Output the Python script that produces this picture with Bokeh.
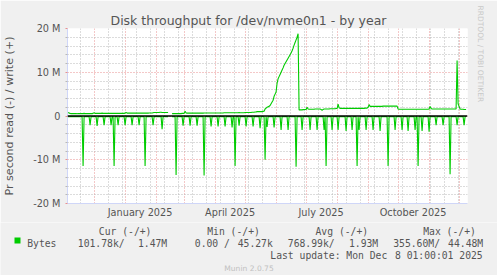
import pandas as pd
from bokeh.plotting import figure
from bokeh.layouts import column, row
from bokeh.models import (Range1d, FixedTicker, Label, Span, Title,
                          DatetimeTickFormatter, ColumnDataSource)
from bokeh.embed import file_html
from bokeh.resources import INLINE

nan = float("nan")

# ---------------- data (MB/s, one value per day, starting 2024-11-05) ----------------
first_day = "2024-11-05"

write_mb = [
    0.80, 0.70, 0.60, 0.55, 0.55, 0.55, 0.55, 0.55, 0.55, 0.50, 0.55, 0.55, 0.55, 0.55,
    0.55, 0.55, 0.60, 0.55, 0.55, 0.55, 0.55, 0.55, 0.55, 0.55, 0.55, 0.60, 0.75, 0.60,
    0.60, 0.60, 0.60, 0.60, 0.60, 0.60, 0.65, 0.60, 0.60, 0.60, 0.60, 0.60, 0.60, 0.60,
    0.60, 0.60, 0.60, 0.60, 0.60, 0.60, 0.60, 0.60, 0.60, 0.60, 0.60, 0.60, 0.60, 0.60,
    0.60, 0.65, 0.80, 0.65, 0.65, 0.65, 0.65, 0.65, 0.65, 0.65, 0.65, 0.65, 0.65, 0.65,
    0.65, 0.65, 0.65, 0.65, 0.65, 0.65, 0.65, 0.65, 0.65, 0.65, 0.65, 0.70, 0.70, 0.70,
    0.70, 0.75, 0.80, 0.80, 0.80, 0.80, 0.80, 0.80, 0.85, 0.85, 0.80, 0.80, 0.80, 0.80,
    0.80, 0.80, 0.80, nan, nan, nan, 0.55, 0.55, 0.55, 0.55, 0.55, 0.55, 0.55, 0.55,
    0.55, 0.55, 0.60, 0.60, 0.60, 1.10, 0.70, 0.65, 0.65, 0.65, 0.65, 0.65, 0.65, 0.65,
    0.65, 0.65, 0.65, 0.70, 0.65, 0.65, 0.65, 0.65, 0.65, 0.65, 0.70, 0.70, 0.70, 0.70,
    0.70, 0.70, 0.70, 0.70, 0.70, 0.70, 0.70, 0.70, 0.70, 0.70, 0.70, 0.70, 0.70, 0.70,
    0.70, 0.70, 0.75, 0.75, 0.75, 0.75, 0.75, 0.75, 0.75, 0.75, 0.75, 0.75, 0.75, 0.75,
    0.75, 0.75, 0.75, 0.80, 0.75, 0.75, 0.75, 0.75, 0.75, 0.80, 0.80, 0.80, 0.80, 0.80,
    0.80, 0.80, 0.85, 0.85, 0.85, 0.90, 0.90, 1.00, 1.00, 1.00, 1.00, 1.00, 1.00, 1.05,
    1.10, 1.60, 1.80, 2.00, 2.10, 2.20, 2.40, 2.80, 3.20, 3.60, 4.50, 5.00, 5.50, 7.50,
    8.50, 9.00, 9.50, 10.0, 10.5, 11.0, 11.6, 12.0, 12.4, 12.8, 13.2, 13.6, 14.0, 14.4,
    14.9, 15.5, 16.2, 16.8, 17.4, 18.0, 18.8, 1.40, 1.40, 1.40, 1.40, 1.45, 1.45, 1.50,
    1.50, 2.00, 1.60, 1.55, 1.55, 1.55, 1.55, 1.55, 1.55, 1.60, 1.60, 1.60, 1.60, 1.60,
    1.60, 1.50, 1.30, 1.50, 1.60, 1.60, 1.60, 1.60, 1.60, 1.60, 1.65, 1.65, 1.65, 1.65,
    1.65, 1.65, 1.70, 1.70, 2.70, 1.90, 1.75, 1.75, 1.75, 1.75, 1.75, 1.75, 1.75, 1.75,
    1.75, 1.75, 1.75, 1.75, 1.75, 1.75, 1.75, 1.75, 1.75, 1.75, 1.75, 1.75, 1.75, 1.75,
    1.75, 1.75, 1.75, 1.80, 1.80, 1.80, 2.00, 2.60, 2.20, 2.20, 2.20, 2.20, 2.20, 2.20,
    2.20, 2.20, 2.20, 2.20, 2.20, 2.20, 2.20, 2.25, 2.25, 2.25, 2.25, 2.25, 2.25, 2.25,
    2.25, 2.25, 2.25, 2.25, 2.25, 2.25, 2.25, 2.25, 1.60, 1.55, 1.55, 1.55, 1.55, 1.55,
    1.55, 1.55, 1.55, 1.55, 1.55, 1.55, 1.55, 1.55, 1.55, 1.55, 1.55, 1.55, 1.55, 1.55,
    1.55, 1.55, 1.55, 1.55, 1.55, 1.55, 1.55, 1.55, 1.55, 1.55, 1.55, 1.60, 2.20, 1.70,
    1.60, 1.60, 1.60, 1.60, 1.60, 1.60, 1.60, 1.60, 1.60, 1.60, 1.60, 1.60, 1.60, 1.60,
    1.60, 1.60, 1.60, 1.60, 1.60, 1.60, 1.60, 1.60, 1.60, 1.60, 1.60, 12.7, 2.80, 2.20,
    1.60, 1.55, 1.55, 1.55, 1.50, 1.50, 1.47,
]

read_mb = [
    .15, .15, .15, .15, .15, .15, .15, .15, .15, .15, .15, .15, .15, .15,
    .15, 11.4, .15, .15, .15, .15, .15, .15, 2.1, .15, .15, .15, .15, .15,
    .15, 2.3, .15, .15, .15, .15, .15, .15, 2.1, .15, .15, .15, .15, .15,
    .15, 2.1, .15, .15, 11.4, .15, .15, .15, 2.1, .15, .15, .15, .15, .15,
    .15, 2.1, .15, .15, .15, .15, .15, .15, 2.1, .15, .15, .15, .15, .15,
    .15, 2.1, .15, .15, .15, .15, .15, 11.4, .15, .15, .15, .15, .15, .15,
    .15, 2.1, .15, .15, .15, .15, .15, .15, .15, .15, 3.0, .15, .15, .15,
    .15, .15, .15, nan, nan, nan, .15, .15, .15, .15, 13.5, .15, .15, .15,
    .15, .15, .15, 2.2, .15, .15, .15, .15, .15, .15, 2.2, .15, .15, .15,
    .15, .15, .15, 2.2, .15, .15, .15, .15, .15, .15, 13.6, .15, .15, .15,
    .15, .15, .15, 2.4, .15, .15, .15, .15, .15, .15, 2.4, .15, .15, .15,
    .15, .15, .15, 2.4, .15, .15, .15, .15, .15, .15, 2.6, .15, .15, 11.4,
    .15, .15, .15, 2.2, .15, .15, .15, .15, .15, .15, 2.4, .15, .15, .15,
    .15, .15, .15, 2.4, .15, .15, .15, .15, .15, .15, 2.8, .15, .15, .15,
    .15, 10.0, .15, 2.5, .15, .15, .15, .15, .15, .15, 2.6, .15, .15, .15,
    .15, .15, .15, 3.2, .15, .15, .15, .15, .15, .15, 3.2, .15, .15, .15,
    .15, .15, .15, .15, 11.6, .15, .15, .15, .15, .15, 3.2, .15, .15, .15,
    .15, .15, .15, .15, 3.2, .15, .15, .15, .15, .15, .15, 3.2, .15, .15,
    .15, .15, .15, .15, 3.2, .15, 11.4, .15, .15, .15, .15, .15, 3.2, .15,
    .15, .15, .15, .15, 3.2, .15, .15, .15, .15, .15, .15, .15, 3.4, .15,
    .15, .15, .15, .15, 3.2, .15, .15, .15, .15, 11.4, .15, 3.2, .15, .15,
    .15, .15, .15, .15, 3.2, .15, .15, .15, .15, .15, .15, 3.2, .15, .15,
    .15, .15, .15, .15, 3.4, .15, .15, .15, .15, .15, .15, .15, 11.4, .15,
    .15, .15, .15, .15, .15, 3.2, .15, .15, .15, .15, .15, .15, 3.2, .15,
    .15, .15, .15, .15, 3.4, .15, .15, .15, .15, .15, .15, 3.2, .15, .15,
    11.4, .15, .15, .15, 3.4, .15, .15, .15, .15, .15, .15, 3.6, .15, .15,
    .15, .15, .15, .15, 2.1, .15, .15, .15, .15, .15, .15, 2.1, .15, .15,
    .15, .15, .15, .15, 13.3, .15, .15, .15, .15, .15, .15, 2.1, .15, .15,
    .15, .15, .15, .15, 2.1, .15, .10,
]

# axis / tick definitions
x_start = "2024-11-04 10:00"
x_end = "2025-12-09 10:00"
y_ticks = [-20, -10, 0, 10, 20]
y_tick_labels = ["-20 M", "-10 M", "0", "10 M", "20 M"]
y_minor = [-18, -16, -14, -12, -8, -6, -4, -2, 2, 4, 6, 8, 12, 14, 16, 18]
month_starts = ["2024-12-01", "2025-01-01", "2025-02-01", "2025-03-01", "2025-04-01",
                "2025-05-01", "2025-06-01", "2025-07-01", "2025-08-01", "2025-09-01",
                "2025-10-01", "2025-11-01", "2025-12-01"]
biweekly = ["2024-11-17", "2024-12-15", "2024-12-29", "2025-01-12", "2025-01-26",
            "2025-02-09", "2025-02-23", "2025-03-09", "2025-03-23", "2025-04-06",
            "2025-04-20", "2025-05-04", "2025-05-18", "2025-06-15", "2025-06-29",
            "2025-07-13", "2025-07-27", "2025-08-10", "2025-08-24", "2025-09-07",
            "2025-09-21", "2025-10-05", "2025-10-19", "2025-11-02", "2025-11-16",
            "2025-11-30"]
label_ticks = ["2025-01-16", "2025-04-16", "2025-07-16", "2025-10-16"]

title = "Disk throughput for /dev/nvme0n1 - by year"
y_label = "Pr second read (-) / write (+)"
series_name = "Bytes"
legend_headers = ["Cur (-/+)", "Min (-/+)", "Avg (-/+)", "Max (-/+)"]
legend_read = ["101.78k/", "0.00 /", "768.99k/", "355.60M/"]
legend_write = ["1.47M", "45.27k", "1.93M", "44.48M"]
last_update = ["Last update: Mon Dec", "8 01:00:01 2025"]
watermark = "Munin 2.0.75"
side_mark = "RRDTOOL / TOBI OETIKER"


def ms(s):
    return pd.Timestamp(s).timestamp() * 1000.0


# ---------------- styling constants ----------------
W, H = 497, 275
FL, FR, FT, FB = 67, 467, 28, 203
MAIN_W, MAIN_H = W, 222
BG = "#F0F0F0"
TXT = "#555555"
GREEN = "#00CC00"
AXIS_C = "#CFD6F8"
MAJ_C = "#E89090"
MIN_C = "#B8B8B8"
SANS = "DejaVu Sans"
MONO = "DejaVu Sans Mono"

dates = pd.date_range(first_day, periods=len(write_mb), freq="D")
src = ColumnDataSource(dict(x=dates, w=write_mb, r=[-v for v in read_mb]))

p = figure(width=MAIN_W, height=MAIN_H, x_axis_type="datetime", output_backend="svg",
           toolbar_location=None,
           x_range=Range1d(ms(x_start), ms(x_end)), y_range=Range1d(-20, 20),
           min_border_left=FL, min_border_right=W - FR,
           min_border_top=FT, min_border_bottom=MAIN_H - FB)
p.background_fill_color = "white"
p.border_fill_color = BG
p.outline_line_color = None

# title above the frame (starts at canvas x=110)
p.title = Title(text=title, align="left", offset=110 - FL, standoff=2,
                text_font=SANS, text_font_size="12.5px", text_font_style="normal",
                text_color=TXT)
# rrdtool watermark, vertical, at the right edge
p.add_layout(Title(text=side_mark, align="left", offset=5 - FT, standoff=16,
                   text_font=SANS, text_font_size="7.5px", text_font_style="normal",
                   text_color="#C8C8C8", vertical_align="bottom"), "right")

# grids
p.xgrid.ticker = FixedTicker(ticks=[ms(d) for d in month_starts],
                             minor_ticks=[ms(d) for d in biweekly])
p.ygrid.ticker = FixedTicker(ticks=y_ticks, minor_ticks=y_minor)
for g in (p.xgrid, p.ygrid):
    g.grid_line_color = MAJ_C
    g.grid_line_dash = "1 2"
    g.grid_line_width = 1
    g.minor_grid_line_color = MIN_C
    g.minor_grid_line_dash = "1 2"
    g.minor_grid_line_width = 1

# x axis
xa = p.xaxis[0]
xa.ticker = FixedTicker(ticks=[ms(d) for d in label_ticks])
fmt = "%B %Y"
xa.formatter = DatetimeTickFormatter(days=fmt, months=fmt, years=fmt, hours=fmt,
                                     hourmin=fmt, minutes=fmt, minsec=fmt, seconds=fmt,
                                     milliseconds=fmt, microseconds=fmt)
xa.major_tick_line_color = None
xa.minor_tick_line_color = None
xa.major_tick_out = 0
xa.major_tick_in = 0
xa.minor_tick_out = 0
xa.minor_tick_in = 0
xa.axis_line_color = AXIS_C
xa.major_label_standoff = 3
xa.major_label_text_font = SANS
xa.major_label_text_font_size = "9.72px"
xa.major_label_text_color = TXT

# y axis
ya = p.yaxis[0]
ya.ticker = FixedTicker(ticks=y_ticks, minor_ticks=y_minor)
ya.major_label_overrides = dict(zip(y_ticks, y_tick_labels))
ya.axis_line_color = AXIS_C
ya.major_tick_in = 0
ya.major_tick_out = 2
ya.major_tick_line_color = MAJ_C
ya.minor_tick_in = 0
ya.minor_tick_out = 2
ya.minor_tick_line_color = MIN_C
ya.major_label_standoff = 5
ya.major_label_text_font = SANS
ya.major_label_text_font_size = "9.72px"
ya.major_label_text_color = TXT
ya.axis_label = y_label
ya.axis_label_text_font = SANS
ya.axis_label_text_font_size = "11.1px"
ya.axis_label_text_font_style = "normal"
ya.axis_label_text_color = TXT
ya.axis_label_standoff = 14

# data lines
p.line("x", "w", source=src, line_color=GREEN, line_width=1.1)
p.line("x", "r", source=src, line_color=GREEN, line_width=1.1)
p.add_layout(Span(location=0, dimension="width", line_color="black", line_width=1.3))


def blank(w, h, x0, y0):
    """A text-only strip whose frame fills it; coordinates are canvas pixels."""
    f = figure(width=w, height=h, output_backend="svg", toolbar_location=None,
               x_range=Range1d(x0, x0 + w), y_range=Range1d(y0 + h, y0),
               min_border=0, x_axis_location=None, y_axis_location=None)
    f.grid.visible = False
    f.outline_line_color = None
    f.background_fill_color = BG
    f.border_fill_color = BG
    return f


def lab(f, cx, cy, text, font=SANS, size="9.72px", color=TXT, align="left",
        baseline="alphabetic", angle=0.0):
    f.add_layout(Label(x=cx, y=cy, text=text, text_font=font, text_font_size=size,
                       text_color=color, text_align=align, text_baseline=baseline,
                       angle=angle))


# legend strip
leg = blank(W, H - MAIN_H, 0, MAIN_H)
head_x = [98.3, 206.7, 315.0, 422.7]
for hx, h in zip(head_x, legend_headers):
    lab(leg, hx, 231, h, font=MONO)
leg.quad(left=[14], right=[20], top=[237], bottom=[243], fill_color=GREEN,
         line_color=None)
lab(leg, 26.7, 243, series_name, font=MONO)
read_x = [77.3, 194.3, 287.3, 392.7]
write_right = [166.7, 272.3, 377.7, 482.7]
for rx, wr, a, b in zip(read_x, write_right, legend_read, legend_write):
    lab(leg, rx, 243, a, font=MONO)
    lab(leg, wr, 243, b, font=MONO, align="right")
lab(leg, 386.8, 255, last_update[0], font=MONO, align="right")
lab(leg, 482.2, 255, last_update[1], font=MONO, align="right")
lab(leg, 248.5, 267.5, watermark, size="7.56px", color="#C0C0C0", align="center")

# wrapping the chart in a row keeps the legend strip's frame independent of it
layout = column(row(p), leg)
open("out.html", "w").write(file_html(layout, INLINE))
